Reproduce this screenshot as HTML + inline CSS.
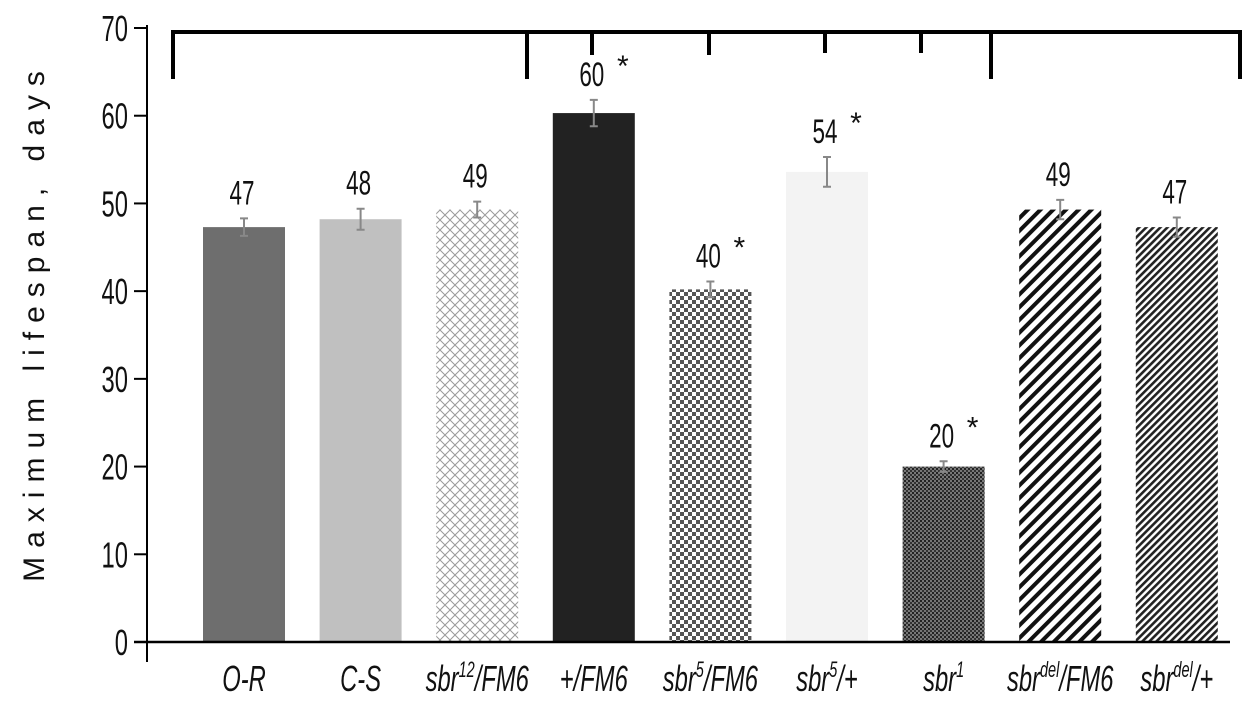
<!DOCTYPE html>
<html><head><meta charset="utf-8"><style>
html,body{margin:0;padding:0;background:#fff;}
svg{display:block;}
text{font-family:"Liberation Sans",sans-serif;fill:#111;}
</style></head><body>
<svg id="chart" width="1246" height="703" viewBox="0 0 1246 703" xmlns="http://www.w3.org/2000/svg">
<defs>
<pattern id="p-cross" width="10" height="10" patternUnits="userSpaceOnUse">
<rect width="10" height="10" fill="#fff"/><path d="M0 10 L10 0 M0 0 L10 10" stroke="#9a9a9a" stroke-width="1"/></pattern>
<pattern id="p-check" width="8" height="8" patternUnits="userSpaceOnUse">
<rect width="8" height="8" fill="#fff"/><rect width="4" height="4" fill="#555"/><rect x="4" y="4" width="4" height="4" fill="#555"/></pattern>
<pattern id="p-dense" width="4" height="4" patternUnits="userSpaceOnUse">
<rect width="4" height="4" fill="#777"/><rect width="2" height="2" fill="#222"/><rect x="2" y="2" width="2" height="2" fill="#333"/></pattern>
<pattern id="p-stripe" width="9" height="9" patternUnits="userSpaceOnUse" patternTransform="rotate(45)">
<rect width="9" height="9" fill="#fff"/><rect width="4" height="9" fill="#111"/></pattern>
<pattern id="p-fine" width="5" height="5" patternUnits="userSpaceOnUse" patternTransform="rotate(45)">
<rect width="5" height="5" fill="#fff"/><rect width="2.6" height="5" fill="#222"/></pattern>
</defs>
<g id="plot"></g>
<text transform="translate(44,322) rotate(-90)" text-anchor="middle" font-size="30" letter-spacing="9">Maximum lifespan, days</text>
</svg>
<script>
const categories=["O-R","C-S","sbr12/FM6","+/FM6","sbr5/FM6","sbr5/+","sbr1","sbrdel/FM6","sbrdel/+"];
const labelBase=["O-R","C-S","sbr","+/FM6","sbr","sbr","sbr","sbr","sbr"];
const labelSup=["","","12","","5","5","1","del","del"];
const labelTail=["","","/FM6","","/FM6","/+","","/FM6","/+"];
const values=[47.3,48.2,49.3,60.3,40.2,53.6,20.0,49.3,47.3];
const errors=[1.0,1.2,0.9,1.5,0.9,1.7,0.6,1.1,1.1];
const printed=["47","48","49","60","40","54","20","49","47"];
const starred=[false,false,false,true,true,true,true,false,false];
const fills=["#6e6e6e","#c0c0c0","url(#p-cross)","#222","url(#p-check)","#f3f3f3","url(#p-dense)","url(#p-stripe)","url(#p-fine)"];
const yTicks=[0,10,20,30,40,50,60,70];
const NS="http://www.w3.org/2000/svg";
const g=document.getElementById('plot');
const y=v=>642-v*(614/70);
const x=i=>244+i*116.6;
const bw=82;
const SX=0.66;
function mk(t,a,p){const e=document.createElementNS(NS,t);for(const k in a)e.setAttribute(k,a[k]);(p||g).appendChild(e);return e;}
function ctext(px,py,size,anchor,extra){const e=mk('text',Object.assign({transform:`translate(${px},${py}) scale(${SX},1)`,'text-anchor':anchor,'font-size':size},extra||{}));return e;}
let ax=mk('line',{x1:147,y1:25,x2:147,y2:662,stroke:'#000','stroke-width':2});


yTicks.forEach(v=>{
 let t=mk('line',{x1:134,y1:y(v),x2:147,y2:y(v),stroke:'#000','stroke-width':2});
 
 
 let l=ctext(128,y(v)+13,36,'end');
 l.textContent=v;
 
 
});
values.forEach((v,i)=>{
 const cx=x(i);
 let r=mk('rect',{x:cx-bw/2,y:y(v),width:bw,height:642-y(v),fill:fills[i]});
 
 
 let e=mk('path',{d:`M${cx} ${y(v+errors[i])} V${y(v-errors[i])} M${cx-4} ${y(v+errors[i])} H${cx+4} M${cx-4} ${y(v-errors[i])} H${cx+4}`,stroke:'#888','stroke-width':2,fill:'none'});
 
 
 const ty=y(v+errors[i])-14;
 let vl=ctext(cx-2,ty,34,'middle');
 vl.textContent=printed[i];
 
 
 if(starred[i]){
  let s=mk('text',{x:cx+29,y:ty-10,'text-anchor':'middle','font-size':30});
  s.textContent='*';
  
  
 }
 let cl=ctext(cx,691,36,'middle',{'font-style':'italic'});
 
 
 let a=mk('tspan',{},cl);a.textContent=labelBase[i];
 if(labelSup[i]){let b=mk('tspan',{dy:-14,'font-size':22},cl);b.textContent=labelSup[i];}
 if(labelTail[i]){let c=mk('tspan',{dy:labelSup[i]?14:0},cl);c.textContent=labelTail[i];}
});
let xa=mk('line',{x1:134,y1:642,x2:1230,y2:642,stroke:'#000','stroke-width':2.5});


let br=mk('path',{d:'M173 79 V32 H1240 V79 M527 32 V79 M991 32 V79 M592 32 V55 M709 32 V55 M825 32 V53 M921 32 V53',stroke:'#000','stroke-width':4,fill:'none'});


</script>
</body></html>
